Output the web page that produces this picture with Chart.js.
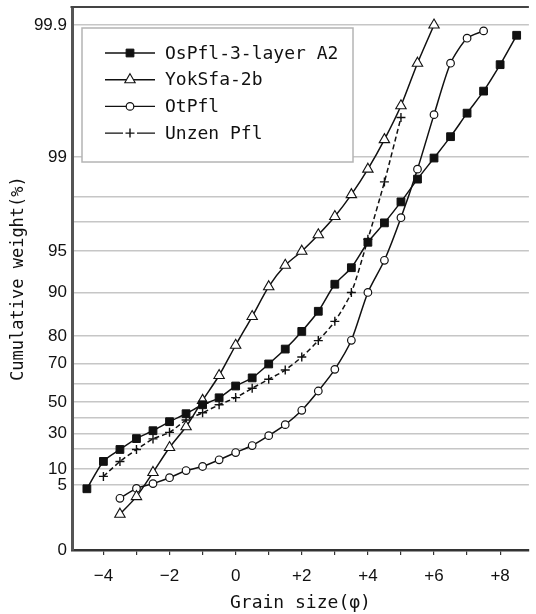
<!DOCTYPE html>
<html>
<head>
<meta charset="utf-8">
<script src="https://cdn.jsdelivr.net/npm/chart.js@4.4.1/dist/chart.umd.min.js"></script>
<style>
html, body { margin: 0; padding: 0; background: #fff; }
#wrap { width: 536px; height: 614px; position: relative; }
</style>
</head>
<body>
<div id="wrap"><canvas id="grainChart"></canvas></div>
<script>
// grain size (phi) of each sieve step, and cumulative weight (%)
const phiOsPfl = [-4.5, -4, -3.5, -3, -2.5, -2, -1.5, -1, -0.5, 0, 0.5, 1, 1.5, 2, 2.5, 3, 3.5, 4, 4.5, 5, 5.5, 6, 6.5, 7, 7.5, 8, 8.5];
const cumOsPfl = [4.7, 13.8, 19.8, 26.8, 31.8, 37.3, 42.3, 48.1, 52.2, 58.6, 62.8, 69.8, 75.3, 81.1, 85.7, 91.0, 93.0, 95.6, 96.9, 97.8, 98.45, 98.98, 99.14, 99.3, 99.45, 99.63, 99.83];

const phiYokSfa = [-3.5, -3, -2.5, -2, -1.5, -1, -0.5, 0, 0.5, 1, 1.5, 2, 2.5, 3, 3.5, 4, 4.5, 5, 5.5, 6];
const cumYokSfa = [2.75, 4.1, 8.9, 21.0, 34.2, 50.8, 64.0, 76.7, 84.5, 90.7, 93.3, 95.0, 96.1, 97.2, 98.06, 98.7, 99.12, 99.35, 99.64, 99.9];

const phiOtPfl = [-3.5, -3, -2.5, -2, -1.5, -1, -0.5, 0, 0.5, 1, 1.5, 2, 2.5, 3, 3.5, 4, 4.5, 5, 5.5, 6, 6.5, 7, 7.5];
const cumOtPfl = [3.97, 4.73, 5.4, 7.25, 9.5, 11.25, 14.6, 18.25, 22.3, 28.7, 35.5, 44.5, 55.9, 67.1, 78.5, 90.0, 93.9, 97.15, 98.7, 99.29, 99.64, 99.81, 99.86];

const phiUnzen = [-4, -3.5, -3, -2.5, -2, -1.5, -1, -0.5, 0, 0.5, 1, 1.5, 2, 2.5, 3, 3.5, 4, 4.5, 5];
const cumUnzen = [7.66, 13.75, 19.75, 26.6, 30.8, 38.3, 42.9, 48.1, 52.3, 57.4, 62.1, 66.75, 72.4, 78.4, 83.4, 90.0, 95.8, 98.38, 99.27];

const seriesNames = ['OsPfl-3-layer A2', 'YokSfa-2b', 'OtPfl', 'Unzen Pfl'];

// probability paper: ruled percentages and how far up the paper each one sits
const probPercent = [0, 5, 10, 20, 30, 40, 50, 60, 70, 80, 90, 95, 97, 98, 99, 99.9];
const probDepth = [0, 65.5, 81.5, 101.5, 117, 133.5, 149, 167.5, 187.5, 215, 259, 300.5, 330.5, 355, 395, 528];
const probLabels = ['0', '5', '10', '', '30', '', '50', '', '70', '80', '90', '95', '', '', '99', '99.9'];
const paperTop = 546;

const phiTicks = [-4, -3, -2, -1, 0, 1, 2, 3, 4, 5, 6, 7, 8];

function toDepth(p)
{
	for (let i = 1; i < probPercent.length; i++)
	{
		if (p <= probPercent[i])
		{
			const t = (p - probPercent[i - 1]) / (probPercent[i] - probPercent[i - 1]);
			return probDepth[i - 1] + t * (probDepth[i] - probDepth[i - 1]);
		}
	}
	return probDepth[probDepth.length - 1];
}

function toPoints(phi, cum)
{
	return phi.map(function (x, i) { return { x: x, y: toDepth(cum[i]) }; });
}

const ink = '#111';
const monoFont = '"DejaVu Sans Mono", monospace';

const datasets = [
	{
		label: seriesNames[0],
		data: toPoints(phiOsPfl, cumOsPfl),
		borderColor: ink, borderWidth: 1.5,
		pointStyle: 'rect', pointRadius: 5.5,
		pointBackgroundColor: ink, pointBorderColor: ink, pointBorderWidth: 1
	},
	{
		label: seriesNames[1],
		data: toPoints(phiYokSfa, cumYokSfa),
		borderColor: ink, borderWidth: 1.5,
		pointStyle: 'triangle', pointRadius: 6,
		pointBackgroundColor: '#fff', pointBorderColor: ink, pointBorderWidth: 1.1
	},
	{
		label: seriesNames[2],
		data: toPoints(phiOtPfl, cumOtPfl),
		borderColor: ink, borderWidth: 1.5,
		pointStyle: 'circle', pointRadius: 3.8,
		pointBackgroundColor: '#fff', pointBorderColor: ink, pointBorderWidth: 1.2
	},
	{
		label: seriesNames[3],
		data: toPoints(phiUnzen, cumUnzen),
		borderColor: ink, borderWidth: 1.5, borderDash: [5, 3],
		pointStyle: 'cross', pointRadius: 4.5,
		pointBackgroundColor: ink, pointBorderColor: ink, pointBorderWidth: 1.4
	}
];

// top rule of the paper plus the boxed legend
const paperFrame = {
	id: 'paperFrame',
	afterDraw(chart)
	{
		const ctx = chart.ctx;
		const area = chart.chartArea;
		ctx.save();
		ctx.strokeStyle = '#444';
		ctx.lineWidth = 2;
		ctx.beginPath();
		ctx.moveTo(area.left - 1.5, area.top);
		ctx.lineTo(area.right, area.top);
		ctx.stroke();

		const box = { x: 82, y: 28, w: 271, h: 134 };
		ctx.fillStyle = '#fff';
		ctx.fillRect(box.x, box.y, box.w, box.h);
		ctx.strokeStyle = '#b4b4b4';
		ctx.lineWidth = 1.5;
		ctx.strokeRect(box.x, box.y, box.w, box.h);

		ctx.font = '18px ' + monoFont;
		ctx.textBaseline = 'middle';
		chart.data.datasets.forEach(function (ds, i)
		{
			const rowY = 53 + i * 26.7;
			ctx.strokeStyle = ink;
			ctx.lineWidth = 1.4;
			ctx.setLineDash([]);
			ctx.beginPath();
			if (ds.pointStyle === 'cross')
			{
				ctx.moveTo(105, rowY); ctx.lineTo(123, rowY);
				ctx.moveTo(137, rowY); ctx.lineTo(155, rowY);
			}
			else
			{
				ctx.moveTo(105, rowY); ctx.lineTo(155, rowY);
			}
			ctx.stroke();
			ctx.fillStyle = ds.pointBackgroundColor;
			ctx.strokeStyle = ds.pointBorderColor;
			ctx.lineWidth = ds.pointBorderWidth;
			Chart.helpers.drawPoint(ctx, { pointStyle: ds.pointStyle, radius: ds.pointRadius, borderWidth: ds.pointBorderWidth, rotation: 0 }, 130, rowY);
			ctx.fillStyle = ink;
			ctx.fillText(ds.label, 165, rowY + 1);
		});
		ctx.restore();
	}
};

new Chart(document.getElementById('grainChart'), {
	type: 'line',
	data: { datasets: datasets },
	plugins: [paperFrame],
	options: {
		responsive: true,
		maintainAspectRatio: false,
		devicePixelRatio: 1,
		animation: false,
		layout: { padding: { top: 2, right: 0, left: 0, bottom: 0 } },
		elements: { line: { tension: 0.25 } },
		plugins: {
			legend: { display: false },
			tooltip: { enabled: false }
		},
		scales: {
			x: {
				type: 'linear',
				min: -4.95,
				max: 8.87,
				afterBuildTicks: function (scale)
				{
					scale.ticks = phiTicks.map(function (v) { return { value: v }; });
				},
				afterFit: function (scale)
				{
					scale.height = 64;
					scale.paddingLeft = 0;
					scale.paddingRight = 0;
				},
				grid: { display: true, drawOnChartArea: false, drawTicks: true, tickLength: 5, color: '#333', lineWidth: 1.2 },
				border: { display: true, color: '#333', width: 2.5 },
				ticks: {
					autoSkip: false,
					maxRotation: 0,
					padding: 11,
					color: ink,
					font: { family: '"Liberation Sans", Arial, sans-serif', size: 17 },
					callback: function (v)
					{
						if (v % 2 !== 0) return '';
						if (v > 0) return '+' + v;
						if (v < 0) return '\u2212' + Math.abs(v);
						return '0';
					}
				},
				title: {
					display: true,
					text: 'Grain size(\u03c6)',
					color: ink,
					font: { family: monoFont, size: 18 },
					padding: { top: 0, bottom: 0 }
				}
			},
			y: {
				type: 'linear',
				min: 0,
				max: paperTop,
				afterBuildTicks: function (scale)
				{
					scale.ticks = probDepth.map(function (v) { return { value: v }; });
				},
				afterFit: function (scale)
				{
					scale.width = 72;
					scale.paddingTop = 0;
					scale.paddingBottom = 0;
				},
				grid: {
					drawTicks: false,
					lineWidth: 1.5,
					color: function (c) { return c.index === 0 ? 'rgba(0,0,0,0)' : '#c6c6c6'; }
				},
				border: { display: true, color: '#555', width: 3 },
				ticks: {
					autoSkip: false,
					padding: 5,
					color: ink,
					font: { family: '"Liberation Sans", Arial, sans-serif', size: 17 },
					callback: function (v, i) { return probLabels[i]; }
				},
				title: {
					display: true,
					text: 'Cumulative weight(%)',
					color: ink,
					font: { family: monoFont, size: 17 },
					padding: { top: 8, bottom: 0 }
				}
			}
		}
	}
});
</script>
</body>
</html>
